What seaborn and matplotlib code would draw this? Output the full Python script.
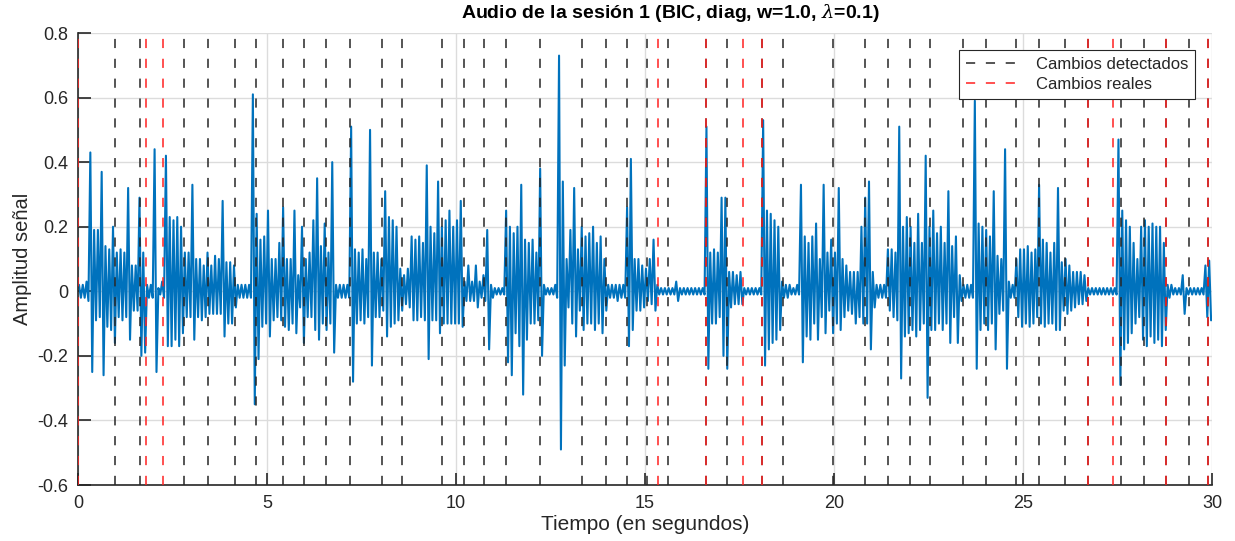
import numpy as np
import matplotlib
matplotlib.use('Agg')
import matplotlib.pyplot as plt
import seaborn as sns

# envelope of the audio signal, one value per 0.1 s bin
BIN = 0.1
env_top = [
    0.02, 0.02, 0.03, 0.43, 0.19, 0.19, 0.37, 0.14, 0.13, 0.20,
    0.12, 0.13, 0.12, 0.32, 0.08, 0.08, 0.29, 0.12, 0.02, 0.02,
    0.44, 0.01, 0.03, 0.42, 0.23, 0.22, 0.23, 0.20, 0.12, 0.12,
    0.33, 0.10, 0.10, 0.08, 0.12, 0.08, 0.11, 0.10, 0.28, 0.09,
    0.09, 0.08, 0.02, 0.02, 0.02, 0.02, 0.61, 0.24, 0.16, 0.17,
    0.25, 0.10, 0.10, 0.15, 0.26, 0.10, 0.10, 0.25, 0.05, 0.20,
    0.10, 0.12, 0.22, 0.35, 0.14, 0.21, 0.12, 0.40, 0.02, 0.02,
    0.02, 0.02, 0.51, 0.13, 0.12, 0.13, 0.10, 0.50, 0.12, 0.12,
    0.10, 0.31, 0.23, 0.22, 0.20, 0.07, 0.05, 0.07, 0.17, 0.16,
    0.17, 0.15, 0.39, 0.20, 0.18, 0.34, 0.20, 0.22, 0.25, 0.20,
    0.22, 0.28, 0.03, 0.08, 0.03, 0.08, 0.03, 0.05, 0.19, 0.02,
    0.01, 0.01, 0.01, 0.25, 0.20, 0.18, 0.20, 0.33, 0.16, 0.15,
    0.16, 0.12, 0.38, 0.02, 0.01, 0.01, 0.02, 0.73, 0.34, 0.10,
    0.19, 0.32, 0.13, 0.20, 0.17, 0.18, 0.20, 0.15, 0.17, 0.10,
    0.02, 0.02, 0.02, 0.02, 0.02, 0.26, 0.41, 0.10, 0.10, 0.08,
    0.07, 0.10, 0.16, 0.02, 0.01, 0.01, 0.01, 0.01, 0.03, 0.01,
    0.01, 0.01, 0.01, 0.01, 0.01, 0.01, 0.51, 0.12, 0.13, 0.12,
    0.29, 0.29, 0.06, 0.06, 0.05, 0.06, 0.01, 0.01, 0.01, 0.01,
    0.01, 0.53, 0.25, 0.24, 0.22, 0.20, 0.03, 0.02, 0.02, 0.01,
    0.02, 0.33, 0.17, 0.15, 0.17, 0.21, 0.10, 0.33, 0.12, 0.16,
    0.12, 0.32, 0.10, 0.08, 0.06, 0.06, 0.06, 0.20, 0.29, 0.34,
    0.06, 0.02, 0.02, 0.02, 0.13, 0.13, 0.12, 0.51, 0.20, 0.23,
    0.20, 0.15, 0.24, 0.15, 0.42, 0.20, 0.25, 0.18, 0.20, 0.15,
    0.31, 0.14, 0.17, 0.05, 0.02, 0.02, 0.02, 0.59, 0.21, 0.20,
    0.19, 0.17, 0.31, 0.11, 0.10, 0.44, 0.03, 0.02, 0.10, 0.13,
    0.13, 0.14, 0.12, 0.13, 0.33, 0.16, 0.15, 0.12, 0.15, 0.32,
    0.09, 0.10, 0.08, 0.06, 0.06, 0.06, 0.05, 0.01, 0.01, 0.01,
    0.01, 0.01, 0.01, 0.01, 0.01, 0.47, 0.25, 0.22, 0.20, 0.15,
    0.10, 0.20, 0.22, 0.20, 0.21, 0.20, 0.20, 0.15, 0.02, 0.02,
    0.01, 0.01, 0.05, 0.01, 0.01, 0.01, 0.01, 0.01, 0.08, 0.095,
]
env_bottom = [
    -0.02, -0.02, -0.03, -0.25, -0.09, -0.08, -0.26, -0.11, -0.12, -0.16,
    -0.08, -0.09, -0.08, -0.15, -0.06, -0.06, -0.20, -0.19, -0.02, -0.02,
    -0.25, -0.01, -0.02, -0.17, -0.17, -0.15, -0.17, -0.13, -0.08, -0.08,
    -0.15, -0.08, -0.09, -0.08, -0.07, -0.07, -0.07, -0.07, -0.14, -0.10,
    -0.10, -0.05, -0.02, -0.02, -0.02, -0.02, -0.35, -0.21, -0.11, -0.10,
    -0.14, -0.09, -0.08, -0.09, -0.11, -0.12, -0.10, -0.13, -0.05, -0.16,
    -0.08, -0.08, -0.12, -0.15, -0.10, -0.12, -0.10, -0.19, -0.02, -0.02,
    -0.02, -0.02, -0.28, -0.10, -0.09, -0.10, -0.08, -0.23, -0.08, -0.08,
    -0.06, -0.14, -0.11, -0.10, -0.09, -0.06, -0.04, -0.05, -0.09, -0.09,
    -0.08, -0.09, -0.21, -0.09, -0.09, -0.13, -0.10, -0.10, -0.10, -0.10,
    -0.10, -0.11, -0.03, -0.03, -0.03, -0.05, -0.02, -0.03, -0.18, -0.02,
    -0.01, -0.01, -0.01, -0.22, -0.26, -0.13, -0.17, -0.32, -0.15, -0.10,
    -0.10, -0.09, -0.20, -0.01, -0.01, -0.01, -0.02, -0.49, -0.23, -0.05,
    -0.10, -0.14, -0.06, -0.12, -0.10, -0.10, -0.12, -0.10, -0.13, -0.06,
    -0.02, -0.02, -0.03, -0.02, -0.02, -0.17, -0.12, -0.06, -0.06, -0.05,
    -0.03, -0.04, -0.06, -0.01, -0.01, -0.01, -0.01, -0.01, -0.03, -0.01,
    -0.01, -0.01, -0.01, -0.01, -0.01, -0.01, -0.24, -0.10, -0.10, -0.08,
    -0.20, -0.24, -0.05, -0.04, -0.04, -0.04, -0.01, -0.01, -0.01, -0.01,
    -0.01, -0.23, -0.18, -0.16, -0.15, -0.12, -0.02, -0.02, -0.01, -0.01,
    -0.01, -0.22, -0.14, -0.15, -0.10, -0.15, -0.08, -0.13, -0.06, -0.13,
    -0.10, -0.12, -0.08, -0.06, -0.07, -0.10, -0.08, -0.10, -0.10, -0.18,
    -0.05, -0.02, -0.02, -0.02, -0.06, -0.08, -0.09, -0.27, -0.14, -0.13,
    -0.12, -0.14, -0.12, -0.10, -0.33, -0.12, -0.12, -0.10, -0.12, -0.10,
    -0.16, -0.08, -0.16, -0.03, -0.02, -0.02, -0.02, -0.24, -0.12, -0.10,
    -0.12, -0.10, -0.18, -0.07, -0.06, -0.24, -0.02, -0.02, -0.08, -0.11,
    -0.10, -0.11, -0.10, -0.08, -0.10, -0.11, -0.10, -0.10, -0.12, -0.12,
    -0.06, -0.07, -0.06, -0.05, -0.04, -0.04, -0.03, -0.01, -0.01, -0.01,
    -0.01, -0.01, -0.01, -0.01, -0.01, -0.29, -0.18, -0.16, -0.13, -0.10,
    -0.08, -0.15, -0.17, -0.14, -0.16, -0.15, -0.17, -0.12, -0.02, -0.01,
    -0.01, -0.01, -0.07, -0.01, -0.01, -0.01, -0.01, -0.01, -0.08, -0.09,
]

# change points in seconds
cambios_detectados = [0.99, 1.64, 2.80, 3.43, 4.14, 4.71, 5.42, 5.98, 6.56, 7.20,
                      8.04, 8.56, 9.62, 10.21, 10.74, 11.31, 12.22, 13.32, 13.96,
                      14.51, 15.06, 15.62, 16.62, 17.18, 18.10, 18.66, 19.97, 20.81,
                      21.44, 22.00, 22.55, 23.41, 24.03, 24.82, 25.42, 26.12, 26.73,
                      27.59, 28.19, 28.79, 29.38, 29.89]
cambios_reales = [0.0, 1.80, 2.24, 15.35, 16.62, 17.59, 18.10, 26.73, 27.38, 28.79, 29.89]

x_ticks = [0, 5, 10, 15, 20, 25, 30]
y_ticks = [-0.6, -0.4, -0.2, 0, 0.2, 0.4, 0.6, 0.8]
y_labels = ['-0.6', '-0.4', '-0.2', '0', '0.2', '0.4', '0.6', '0.8']

sns.set_theme(style='white')
plt.rcParams['font.family'] = ['Liberation Sans', 'DejaVu Sans']
plt.rcParams['mathtext.fontset'] = 'dejavuserif'

# zig-zag between the top and bottom of each bin so it reads as a waveform
t0 = np.arange(len(env_top)) * BIN
t_wave = np.column_stack([t0 + 0.25 * BIN, t0 + 0.75 * BIN]).ravel()
y_wave = np.column_stack([env_top, env_bottom]).ravel()

fig = plt.figure(figsize=(12.35, 5.41), dpi=100)
ax = fig.add_axes([0.0632, 0.1035, 0.9182, 0.8355])

sns.lineplot(x=t_wave, y=y_wave, sort=False, estimator=None, color='#0072BD',
             linewidth=1.5, ax=ax, zorder=2)

dash = (0, (6, 7))
for i, t in enumerate(cambios_detectados):
    ax.axvline(t, color='#262626', linestyle=dash, linewidth=1.1, zorder=3,
               label='Cambios detectados' if i == 0 else None)
for i, t in enumerate(cambios_reales):
    ax.axvline(t, color='#FF2020', linestyle=dash, linewidth=1.1, zorder=4,
               label='Cambios reales' if i == 0 else None)

ax.set_xlim(0, 30)
ax.set_ylim(-0.6, 0.8)
ax.set_xticks(x_ticks)
ax.set_yticks(y_ticks)
ax.set_yticklabels(y_labels)
ax.grid(True, color='#DCDCDC', linewidth=1.0, zorder=0)
ax.set_axisbelow(True)

for side in ['top', 'right']:
    ax.spines[side].set_visible(False)
for side in ['left', 'bottom']:
    ax.spines[side].set_color('#262626')
    ax.spines[side].set_linewidth(1.2)
ax.tick_params(axis='both', direction='in', length=9, width=1.2, colors='#262626',
               labelsize=13, left=True, bottom=True, pad=7)

ax.set_title(r'Audio de la sesión 1 (BIC, diag, w=1.0, $\lambda$=0.1)',
             fontsize=14, fontweight='bold', color='black', pad=11)
ax.title.set_x(0.522)
ax.set_xlabel('Tiempo (en segundos)', fontsize=15, color='#262626', labelpad=2)
ax.set_ylabel('Amplitud señal', fontsize=14.5, color='#262626', labelpad=4)

leg = ax.legend(loc='upper right', bbox_to_anchor=(0.985, 0.962), borderaxespad=0,
                fontsize=12, handlelength=3.4, frameon=True, fancybox=False,
                borderpad=0.4, labelspacing=0.3, framealpha=1)
leg.get_frame().set_edgecolor('#262626')
leg.get_frame().set_linewidth(0.8)
leg.set_zorder(10)

fig.savefig('out.png', dpi=100)
